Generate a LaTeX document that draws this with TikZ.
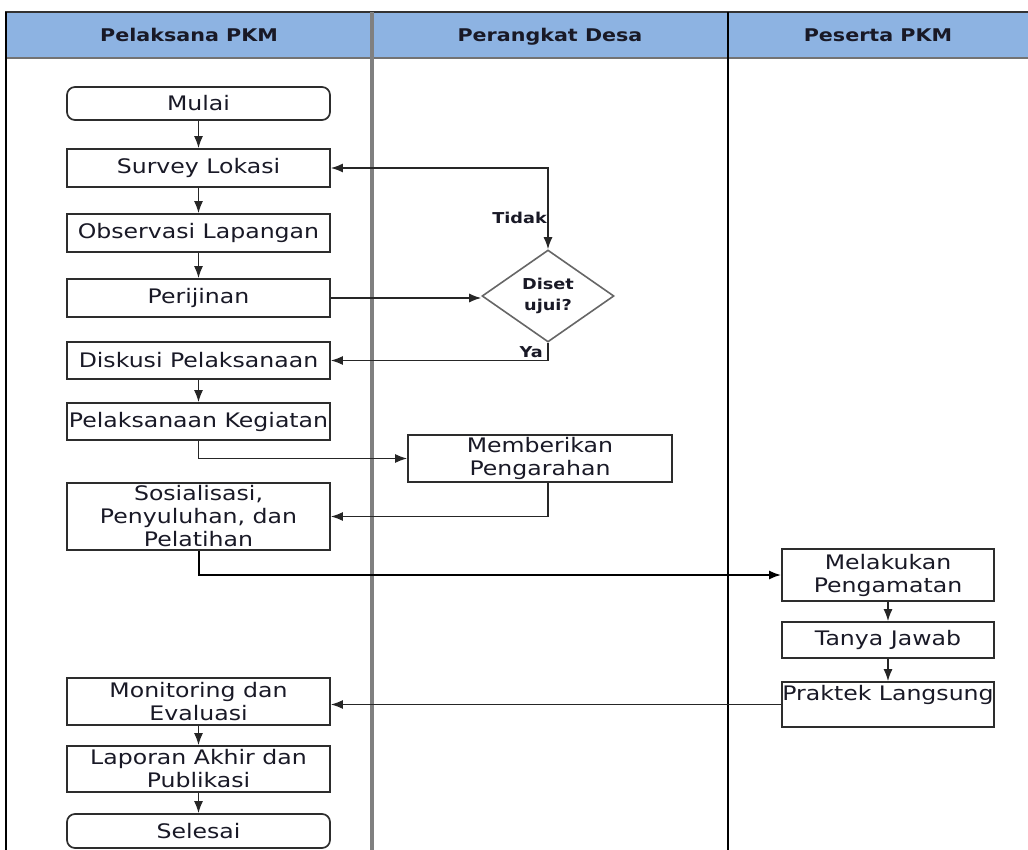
\documentclass[tikz,border=0pt]{standalone}
\usepackage{fontspec}
\setmainfont{DejaVu Sans}[FakeStretch=1.18]
\usetikzlibrary{arrows.meta,shapes.geometric}
\definecolor{headblue}{RGB}{141,179,226}
\definecolor{txt}{RGB}{25,25,38}
\definecolor{boxline}{RGB}{45,45,45}
\begin{document}
\begin{tikzpicture}[x=1pt,y=-1pt,
  box/.style={draw=boxline, line width=1.7pt, fill=white, minimum width=263pt,
    inner sep=0pt, align=center, font=\fontsize{20}{23}\selectfont, text=txt},
  term/.style={box, rounded corners=8pt},
  head/.style={font=\bfseries\fontsize{17.5}{20}\selectfont, text=txt, inner sep=0pt,
    text height=13pt, text depth=4pt},
  lbl/.style={font=\bfseries\fontsize{15}{20}\selectfont, text=txt, inner sep=0pt},
  dec/.style={diamond, draw=black!60, line width=1.6pt, fill=white, inner sep=0pt,
    minimum width=132pt, minimum height=92pt, align=center,
    font=\bfseries\fontsize{15}{21}\selectfont, text=txt},
  arr/.style={draw=black!85, line width=1.4pt, -{Latex[length=12pt,width=9pt]}},
  arrboth/.style={draw=black!85, line width=1.4pt, {Latex[length=12pt,width=9pt]}-{Latex[length=12pt,width=9pt]}}
]
\useasboundingbox (0,0) rectangle (1028,850);
% swimlane frame
\fill[headblue] (5,12) rectangle (1028,58);
\draw[black!80, line width=2.2pt] (5,12) -- (1028,12);
\draw[black!55, line width=1.8pt] (5,58) -- (1028,58);
\draw[black, line width=1.8pt] (6,12) -- (6,850);
\draw[black!50, line width=3.2pt] (372,12) -- (372,850);
\draw[black, line width=1.8pt] (728,12) -- (728,850);
\node[head] (h1) at (189,37) {Pelaksana PKM};
\node[head] (h2) at (550,37) {Perangkat Desa};
\node[head] (h3) at (878,37) {Peserta PKM};
% left lane
\node[term, minimum height=33pt] (mulai) at (198.5,103.5) {Mulai};
\node[box, minimum height=38pt] (survey) at (198.5,168) {Survey Lokasi};
\node[box, minimum height=38pt] (obs) at (198.5,233) {Observasi Lapangan};
\node[box, minimum height=38pt] (izin) at (198.5,298) {Perijinan};
\node[box, minimum height=37pt] (disk) at (198.5,360.5) {Diskusi Pelaksanaan};
\node[box, minimum height=37pt] (pk) at (198.5,421.5) {Pelaksanaan Kegiatan};
\node[box, minimum height=67pt] (sos) at (198.5,516.5) {Sosialisasi,\\Penyuluhan, dan\\Pelatihan};
\node[box, minimum height=47pt] (mon) at (198.5,701.5) {Monitoring dan\\Evaluasi};
\node[box, minimum height=46pt] (lap) at (198.5,769) {Laporan Akhir dan\\Publikasi};
\node[term, minimum height=34pt] (sel) at (198.5,831) {Selesai};
% middle lane
\node[dec] (dia) at (548,296) {Diset\\ujui?};
\node[box, minimum width=264pt, minimum height=47pt] (mp) at (540,458.5) {Memberikan\\Pengarahan};
\node[lbl, anchor=east] (tidak) at (547,218) {Tidak};
\node[lbl, anchor=east] (ya) at (543,352) {Ya};
% right lane
\node[box, minimum width=212pt, minimum height=52pt] (amat) at (888,575) {Melakukan\\Pengamatan};
\node[box, minimum width=212pt, minimum height=36pt] (tanya) at (888,640) {Tanya Jawab};
\node[box, minimum width=212pt, minimum height=45pt] (praktek) at (888,704.5) {Praktek Langsung\\\mbox{}};
% connectors
\draw[arr] (mulai) -- (survey);
\draw[arr] (survey) -- (obs);
\draw[arr] (obs) -- (izin);
\draw[arr] (disk) -- (pk);
\draw[arrboth] (dia.north) |- (survey.east);
\draw[arr] (izin.east) -- (izin.east -| dia.west);
\draw[arr] (dia.south) |- (disk.east);
\draw[arr] (pk.south) |- (mp.west);
\draw[arr] ([xshift=8pt]mp.south) |- (sos.east);
\draw[arr, draw=black, line width=2pt] (sos.south) |- (amat.west);
\draw[arr] (amat) -- (tanya);
\draw[arr] (tanya) -- (praktek);
\draw[arr] (praktek.west) -- (praktek.west -| mon.east);
\draw[arr] (mon) -- (lap);
\draw[arr] (lap) -- (sel);
\end{tikzpicture}
\end{document}
